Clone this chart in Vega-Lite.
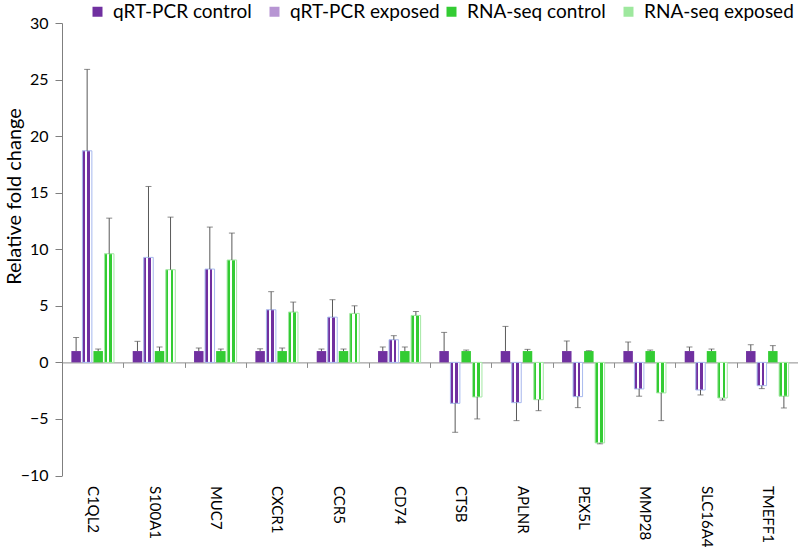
{
  "$schema": "https://vega.github.io/schema/vega-lite/v6.json",
  "width": 736,
  "height": 452.5,
  "autosize": {"type": "none"},
  "padding": {"left": 62, "top": 23, "right": 0, "bottom": 73},
  "background": "white",
  "config": {
    "font": "Lato",
    "view": {"stroke": null},
    "axis": {"grid": false}
  },
  "data": {
    "values": [
      {"gene": "C1QL2", "series": "qRT-PCR control", "value": 1, "errEnd": 2.2},
      {"gene": "C1QL2", "series": "qRT-PCR exposed", "value": 18.7, "errEnd": 25.9},
      {"gene": "C1QL2", "series": "RNA-seq control", "value": 1, "errEnd": 1.18},
      {"gene": "C1QL2", "series": "RNA-seq exposed", "value": 9.6, "errEnd": 12.75},
      {"gene": "S100A1", "series": "qRT-PCR control", "value": 1, "errEnd": 1.86},
      {"gene": "S100A1", "series": "qRT-PCR exposed", "value": 9.28, "errEnd": 15.55},
      {"gene": "S100A1", "series": "RNA-seq control", "value": 1, "errEnd": 1.36},
      {"gene": "S100A1", "series": "RNA-seq exposed", "value": 8.19, "errEnd": 12.84},
      {"gene": "MUC7", "series": "qRT-PCR control", "value": 1, "errEnd": 1.27},
      {"gene": "MUC7", "series": "qRT-PCR exposed", "value": 8.25, "errEnd": 11.96},
      {"gene": "MUC7", "series": "RNA-seq control", "value": 1, "errEnd": 1.18},
      {"gene": "MUC7", "series": "RNA-seq exposed", "value": 9.05, "errEnd": 11.43},
      {"gene": "CXCR1", "series": "qRT-PCR control", "value": 1, "errEnd": 1.2},
      {"gene": "CXCR1", "series": "qRT-PCR exposed", "value": 4.65, "errEnd": 6.25},
      {"gene": "CXCR1", "series": "RNA-seq control", "value": 1, "errEnd": 1.27},
      {"gene": "CXCR1", "series": "RNA-seq exposed", "value": 4.45, "errEnd": 5.33},
      {"gene": "CCR5", "series": "qRT-PCR control", "value": 1, "errEnd": 1.18},
      {"gene": "CCR5", "series": "qRT-PCR exposed", "value": 4.0, "errEnd": 5.54},
      {"gene": "CCR5", "series": "RNA-seq control", "value": 1, "errEnd": 1.18},
      {"gene": "CCR5", "series": "RNA-seq exposed", "value": 4.33, "errEnd": 5.0},
      {"gene": "CD74", "series": "qRT-PCR control", "value": 1, "errEnd": 1.36},
      {"gene": "CD74", "series": "qRT-PCR exposed", "value": 2.0, "errEnd": 2.36},
      {"gene": "CD74", "series": "RNA-seq control", "value": 1, "errEnd": 1.36},
      {"gene": "CD74", "series": "RNA-seq exposed", "value": 4.15, "errEnd": 4.5},
      {"gene": "CTSB", "series": "qRT-PCR control", "value": 1, "errEnd": 2.65},
      {"gene": "CTSB", "series": "qRT-PCR exposed", "value": -3.62, "errEnd": -6.18},
      {"gene": "CTSB", "series": "RNA-seq control", "value": 1, "errEnd": 1.09},
      {"gene": "CTSB", "series": "RNA-seq exposed", "value": -3.06, "errEnd": -5.0},
      {"gene": "APLNR", "series": "qRT-PCR control", "value": 1, "errEnd": 3.18},
      {"gene": "APLNR", "series": "qRT-PCR exposed", "value": -3.56, "errEnd": -5.15},
      {"gene": "APLNR", "series": "RNA-seq control", "value": 1, "errEnd": 1.15},
      {"gene": "APLNR", "series": "RNA-seq exposed", "value": -3.3, "errEnd": -4.27},
      {"gene": "PEX5L", "series": "qRT-PCR control", "value": 1, "errEnd": 1.89},
      {"gene": "PEX5L", "series": "qRT-PCR exposed", "value": -3.03, "errEnd": -4.0},
      {"gene": "PEX5L", "series": "RNA-seq control", "value": 1, "errEnd": 1.03},
      {"gene": "PEX5L", "series": "RNA-seq exposed", "value": -7.12, "errEnd": -7.2},
      {"gene": "MMP28", "series": "qRT-PCR control", "value": 1, "errEnd": 1.8},
      {"gene": "MMP28", "series": "qRT-PCR exposed", "value": -2.35, "errEnd": -2.99},
      {"gene": "MMP28", "series": "RNA-seq control", "value": 1, "errEnd": 1.09},
      {"gene": "MMP28", "series": "RNA-seq exposed", "value": -2.7, "errEnd": -5.15},
      {"gene": "SLC16A4", "series": "qRT-PCR control", "value": 1, "errEnd": 1.36},
      {"gene": "SLC16A4", "series": "qRT-PCR exposed", "value": -2.44, "errEnd": -2.88},
      {"gene": "SLC16A4", "series": "RNA-seq control", "value": 1, "errEnd": 1.18},
      {"gene": "SLC16A4", "series": "RNA-seq exposed", "value": -3.15, "errEnd": -3.33},
      {"gene": "TMEFF1", "series": "qRT-PCR control", "value": 1, "errEnd": 1.56},
      {"gene": "TMEFF1", "series": "qRT-PCR exposed", "value": -2.06, "errEnd": -2.32},
      {"gene": "TMEFF1", "series": "RNA-seq control", "value": 1, "errEnd": 1.48},
      {"gene": "TMEFF1", "series": "RNA-seq exposed", "value": -2.99, "errEnd": -4.03}
    ]
  },
  "encoding": {
    "x": {
      "field": "gene",
      "type": "nominal",
      "sort": null,
      "scale": {"paddingInner": 0, "paddingOuter": 0},
      "axis": {
        "title": null,
        "orient": "bottom",
        "offset": -113.1,
        "domainColor": "#8c8c8c",
        "tickColor": "#8c8c8c",
        "tickBand": "extent",
        "tickSize": 5,
        "labelAngle": 90,
        "labelPadding": 118,
        "labelFontSize": 15,
        "labelColor": "#000000"
      }
    },
    "xOffset": {
      "field": "series",
      "type": "nominal",
      "sort": ["qRT-PCR control", "qRT-PCR exposed", "RNA-seq control", "RNA-seq exposed"],
      "scale": {"paddingInner": 0.14, "paddingOuter": 0.85}
    },
    "y": {
      "field": "value",
      "type": "quantitative",
      "scale": {"domain": [-10, 30], "nice": false, "zero": false},
      "axis": {
        "title": "Relative fold change",
        "titleFontSize": 20,
        "titleFontWeight": "normal",
        "titleColor": "#000000",
        "titleX": -38,
        "titleY": 173,
        "values": [-10, -5, 0, 5, 10, 15, 20, 25, 30],
        "labelFontSize": 16,
        "labelColor": "#000000",
        "labelPadding": 7,
        "tickSize": 7,
        "tickColor": "#7f7f7f",
        "domainColor": "#7f7f7f"
      }
    }
  },
  "layer": [
    {
      "mark": {"type": "bar"},
      "encoding": {
        "color": {
          "field": "series",
          "type": "nominal",
          "scale": {
            "domain": ["qRT-PCR control", "qRT-PCR exposed", "RNA-seq control", "RNA-seq exposed"],
            "range": ["#7030A0", "#B795D3", "#33CC33", "#9EE89E"]
          },
          "legend": {
            "title": null,
            "orient": "none",
            "legendX": 26,
            "legendY": -21,
            "direction": "horizontal",
            "columns": 4,
            "gridAlign": "all",
            "symbolType": "square",
            "symbolSize": 100,
            "symbolStrokeWidth": 0,
            "labelFontSize": 19,
            "labelColor": "#000000",
            "labelOffset": 6,
            "columnPadding": 2
          }
        }
      }
    },
    {
      "transform": [{"filter": "datum.series === 'qRT-PCR exposed'"}],
      "mark": {
        "type": "bar",
        "stroke": "#A9BCEF",
        "strokeWidth": 1,
        "fill": {
          "gradient": "linear",
          "x1": 0, "y1": 0, "x2": 1, "y2": 0,
          "stops": [
            {"offset": 0, "color": "#7030A0"},
            {"offset": 0.28, "color": "#7030A0"},
            {"offset": 0.28, "color": "#FFFFFF"},
            {"offset": 0.5, "color": "#FFFFFF"},
            {"offset": 0.5, "color": "#7030A0"},
            {"offset": 0.78, "color": "#7030A0"},
            {"offset": 0.78, "color": "#FFFFFF"},
            {"offset": 1, "color": "#FFFFFF"}
          ]
        }
      }
    },
    {
      "transform": [{"filter": "datum.series === 'RNA-seq exposed'"}],
      "mark": {
        "type": "bar",
        "stroke": "#A6E8A6",
        "strokeWidth": 1,
        "fill": {
          "gradient": "linear",
          "x1": 0, "y1": 0, "x2": 1, "y2": 0,
          "stops": [
            {"offset": 0, "color": "#33CC33"},
            {"offset": 0.28, "color": "#33CC33"},
            {"offset": 0.28, "color": "#FFFFFF"},
            {"offset": 0.5, "color": "#FFFFFF"},
            {"offset": 0.5, "color": "#33CC33"},
            {"offset": 0.78, "color": "#33CC33"},
            {"offset": 0.78, "color": "#FFFFFF"},
            {"offset": 1, "color": "#FFFFFF"}
          ]
        }
      }
    },
    {
      "mark": {"type": "rule", "color": "#595959", "strokeWidth": 1},
      "encoding": {
        "y2": {"field": "errEnd"}
      }
    },
    {
      "mark": {"type": "tick", "color": "#595959", "thickness": 1, "size": 6, "orient": "horizontal"},
      "encoding": {
        "y": {"field": "errEnd", "type": "quantitative"}
      }
    }
  ]
}
